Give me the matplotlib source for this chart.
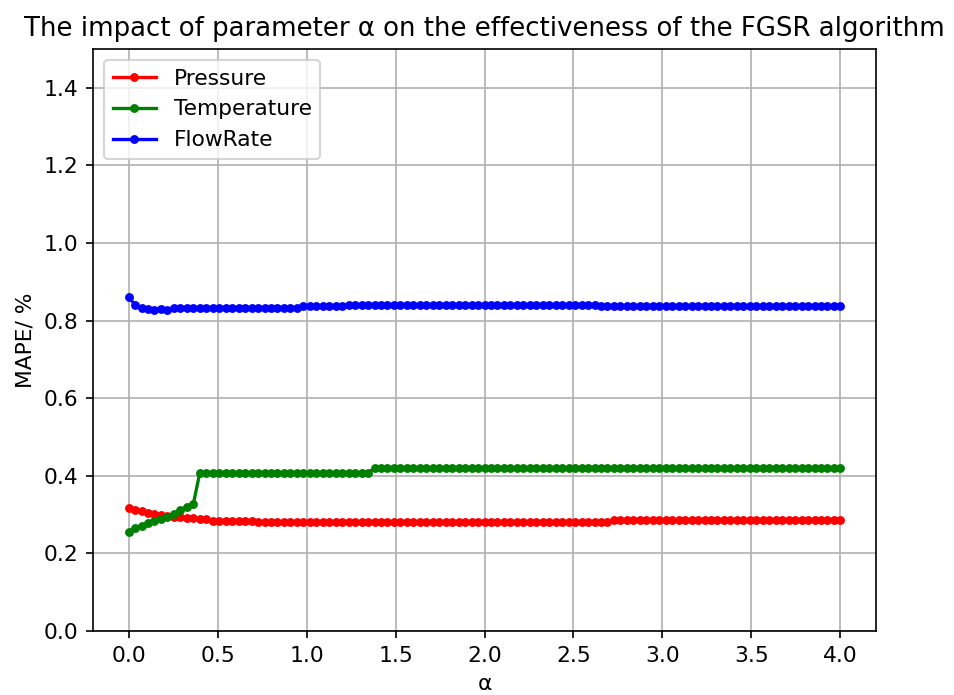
import numpy as np
import matplotlib
matplotlib.use("Agg")
import matplotlib.pyplot as plt

# alpha grid (111 evenly spaced settings from 0 to 4)
alpha = np.linspace(0, 4, 111)

pressure = ([0.318, 0.313, 0.309, 0.305, 0.301, 0.299, 0.297, 0.295, 0.293,
             0.291, 0.290, 0.289, 0.288]
            + [0.284] * 7
            + [0.281] * 55
            + [0.285] * 36)

temperature = ([0.256, 0.265, 0.271, 0.278, 0.284, 0.289, 0.295, 0.302, 0.312,
                0.320, 0.327]
               + [0.408] * 27
               + [0.419] * 73)

flowrate = ([0.862, 0.840, 0.832, 0.829, 0.828, 0.831, 0.828]
            + [0.832] * 20
            + [0.837] * 7
            + [0.841] * 39
            + [0.838] * 38)

series_names = ["Pressure", "Temperature", "FlowRate"]
series_colors = ["r", "g", "b"]
yticks = [0.0, 0.2, 0.4, 0.6, 0.8, 1.0, 1.2, 1.4]

plt.rcParams["font.size"] = 10.45

fig = plt.figure(figsize=(955 / 150, 695 / 150), dpi=150)
ax = fig.add_axes([0.0974, 0.0921, 0.8199, 0.8374])

for vals, name, col in zip([pressure, temperature, flowrate], series_names, series_colors):
    ax.plot(alpha, vals, marker=".", markersize=6.5, linewidth=1.6, color=col, label=name)

ax.set_ylim(0, 1.5)
ax.set_yticks(yticks)
ax.set_xticks([0.0, 0.5, 1.0, 1.5, 2.0, 2.5, 3.0, 3.5, 4.0])
ax.grid(True)
ax.set_title("The impact of parameter α on the effectiveness of the FGSR algorithm", fontsize=12.5)
ax.set_xlabel("α")
ax.set_ylabel("MAPE/ %")
ax.legend(loc="upper left")

fig.savefig("out.png", dpi=150)
